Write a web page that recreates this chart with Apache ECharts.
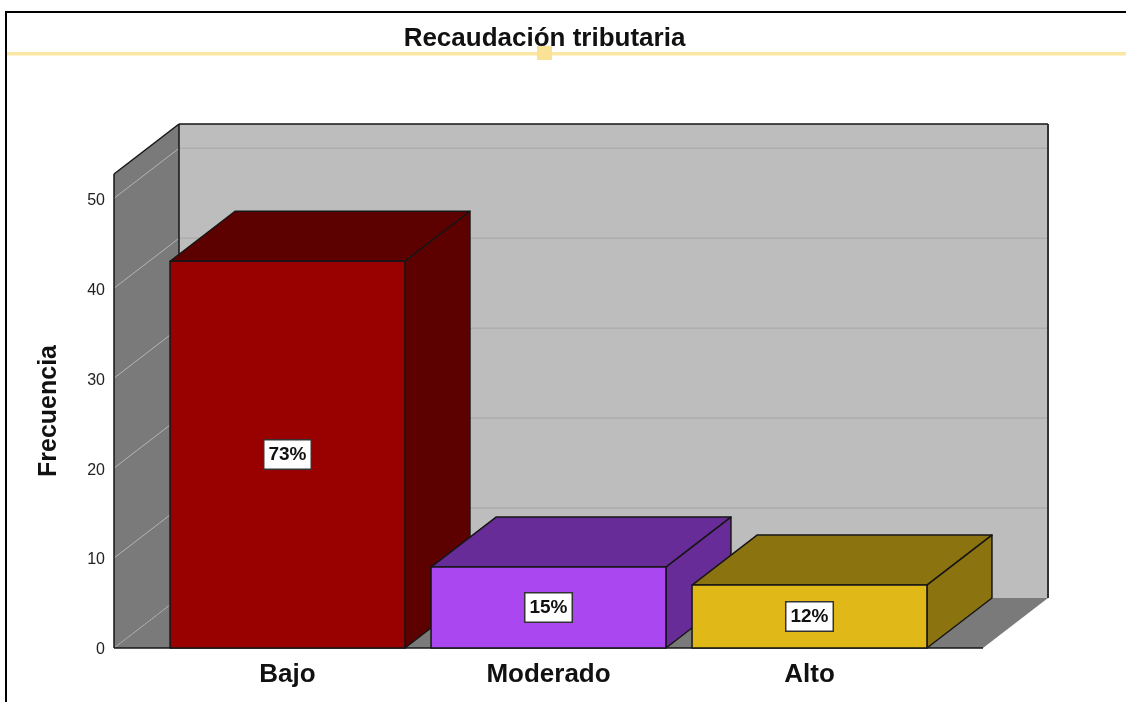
<!DOCTYPE html>
<html>
<head>
<meta charset="utf-8">
<style>html,body{margin:0;padding:0;background:#fff}#c{width:1126px;height:702px}</style>
<script src="https://cdn.jsdelivr.net/npm/echarts@6/dist/echarts.min.js"></script>
</head>
<body>
<div id="c"></div>
<script>
const categories = ['Bajo', 'Moderado', 'Alto'];
const counts = [43, 9, 7];
const percentLabels = ['73%', '15%', '12%'];
const yTicks = [0, 10, 20, 30, 40, 50];
const frontColors = ['#990000', '#aa47f0', '#e0b818'];
const shadeColors = ['#5c0000', '#682c99', '#8b740f'];

const DX = 65, DY = 50, AXIS_SHIFT = 43, EDGE = '#161616', FONT = '"Liberation Sans", Arial, sans-serif';
const poly = (points, fill, stroke, lineWidth) => ({
  type: 'polygon', shape: { points },
  style: { fill, stroke: stroke || 'none', lineWidth: lineWidth === undefined ? 1.5 : lineWidth, lineJoin: 'round' }
});
const line = (a, b, stroke, lineWidth, lineDash) => ({
  type: 'line', shape: { x1: a[0], y1: a[1], x2: b[0], y2: b[1] },
  style: { stroke, lineWidth, lineDash: lineDash || null }
});

function renderBackdrop(params, api) {
  const band = api.size([1, 0])[0];
  const x0 = api.coord([0, 0])[0] - band / 2 - AXIS_SHIFT;
  const x1 = api.coord([categories.length - 1, 0])[0] + band / 2 + AXIS_SHIFT;
  const y0 = api.coord([0, 0])[1];
  const yT = api.coord([0, 52.7])[1];
  const kids = [
    poly([[x0 + DX, yT - DY], [x1 + DX, yT - DY], [x1 + DX, y0 - DY], [x0 + DX, y0 - DY]], '#bdbdbd'),
    poly([[x0, yT], [x0 + DX, yT - DY], [x0 + DX, y0 - DY], [x0, y0]], '#7a7a7a'),
    poly([[x0, y0], [x0 + DX, y0 - DY], [x1 + DX, y0 - DY], [x1, y0]], '#7a7a7a')
  ];
  yTicks.forEach(t => {
    const y = api.coord([0, t])[1];
    if (t > 0) kids.push(line([x0 + DX, y - DY], [x1 + DX, y - DY], '#adadad', 1.5));
    kids.push(line([x0, y], [x0 + DX, y - DY], '#b4b4b4', 1, t === 0 ? [2, 1] : null));
  });
  kids.push(
    line([x0 + DX, yT - DY], [x1 + DX, yT - DY], EDGE, 1.5),
    line([x1 + DX, yT - DY], [x1 + DX, y0 - DY], '#333', 2),
    line([x0, yT], [x0 + DX, yT - DY], EDGE, 1.5),
    line([x0 + DX, yT - DY], [x0 + DX, y0 - DY], EDGE, 1.5),
    line([x0, yT], [x0, y0], EDGE, 1.5),
    line([x0, y0], [x1, y0], EDGE, 1.5)
  );
  return { type: 'group', children: kids };
}

function renderBar(params, api) {
  const i = params.dataIndex;
  const top = api.coord([api.value(0), api.value(1)]);
  const base = api.coord([api.value(0), 0]);
  const w = api.size([1, 0])[0] * 0.9;
  const l = top[0] - w / 2, r = top[0] + w / 2;
  return {
    type: 'group',
    children: [
      poly([[l, top[1]], [l + DX, top[1] - DY], [r + DX, top[1] - DY], [r, top[1]]], shadeColors[i], EDGE),
      poly([[r, top[1]], [r + DX, top[1] - DY], [r + DX, base[1] - DY], [r, base[1]]], shadeColors[i], EDGE),
      poly([[l, top[1]], [r, top[1]], [r, base[1]], [l, base[1]]], frontColors[i], EDGE),
      {
        type: 'text', z2: 10,
        x: top[0], y: (top[1] + base[1]) / 2,
        style: {
          text: percentLabels[i], fill: '#111', font: 'bold 19px ' + FONT,
          align: 'center', verticalAlign: 'middle',
          backgroundColor: '#fff', borderColor: '#333', borderWidth: 1.5,
          padding: [5, 4, 4, 4]
        }
      }
    ]
  };
}

const chart = echarts.init(document.getElementById('c'), null, { renderer: 'canvas' });
chart.setOption({
  animation: false,
  backgroundColor: '#fff',
  title: {
    text: 'Recaudación tributaria', left: 544.5, top: 26, textAlign: 'center',
    textStyle: { fontFamily: FONT, fontWeight: 'bold', fontSize: 26, color: '#111' }, padding: 0, z: 20
  },
  grid: { left: 157, width: 783, top: 174, bottom: 54, containLabel: false },
  xAxis: {
    type: 'category', data: categories,
    axisLine: { show: false }, axisTick: { show: false }, splitLine: { show: false },
    axisLabel: { margin: 14, fontFamily: FONT, fontWeight: 'bold', fontSize: 26, color: '#111' }
  },
  yAxis: {
    type: 'value', min: 0, max: 52.7, offset: AXIS_SHIFT,
    name: 'Frecuencia', nameLocation: 'middle', nameGap: 52, nameRotate: 90,
    nameTextStyle: { fontFamily: FONT, fontWeight: 'bold', fontSize: 25, color: '#111' },
    axisLine: { show: false }, axisTick: { show: false }, splitLine: { show: false },
    axisLabel: {
      customValues: yTicks, margin: 9, formatter: '{t|{value}}',
      rich: { t: { padding: [4, 0, 0, 0], fontFamily: FONT, fontSize: 16, color: '#222' } }
    }
  },
  graphic: [
    { type: 'polyline', z: 50, shape: { points: [[6, 702], [6, 12], [1126, 12]] }, style: { stroke: '#000', lineWidth: 2, fill: 'none' } },
    { type: 'rect', z: 1, shape: { x: 7, y: 52, width: 1119, height: 3.5 }, style: { fill: '#fbe7a3' } },
    { type: 'rect', z: 1, shape: { x: 537, y: 46, width: 15, height: 14 }, style: { fill: '#fbe196' } }
  ],
  series: [
    { type: 'custom', name: 'fondo', silent: true, z: 2, renderItem: renderBackdrop, data: [[0, 0]], encode: { x: 0, y: 1 } },
    { type: 'custom', name: 'Frecuencia', silent: true, z: 3, renderItem: renderBar, data: counts.map((v, i) => [i, v]), encode: { x: 0, y: 1 } }
  ]
});
</script>
</body>
</html>
